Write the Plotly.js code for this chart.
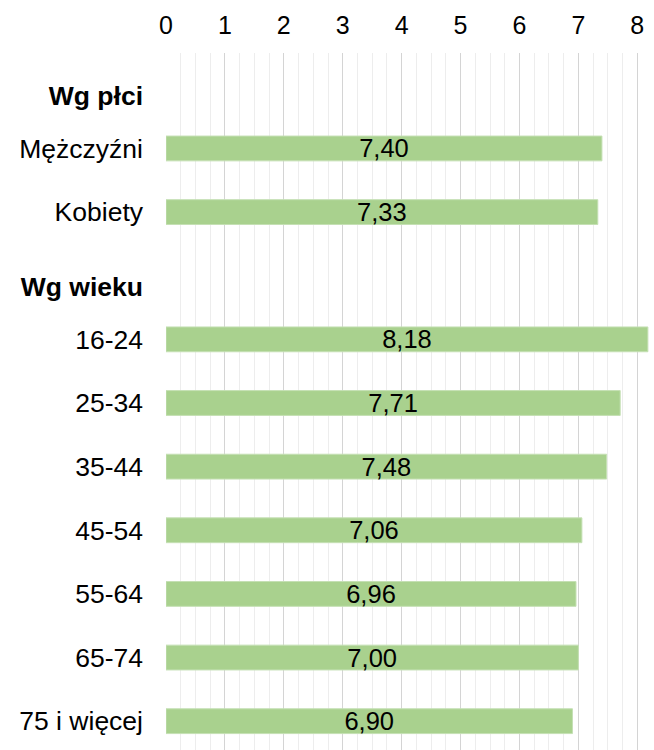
<!DOCTYPE html>
<html>
<head>
<meta charset="utf-8">
<script src="https://cdn.plot.ly/plotly-3.0.1.min.js"></script>
<style>
html,body{margin:0;padding:0;overflow:hidden;background:#fff;}
#chart{width:654px;height:753px;}
</style>
</head>
<body>
<div id="chart"></div>
<script>
// Data
const headers = ["Wg płci", "Wg wieku"];
const genderCategories = ["Mężczyźni", "Kobiety"];
const genderValues = [7.40, 7.33];
const ageCategories = ["16-24", "25-34", "35-44", "45-54", "55-64", "65-74", "75 i więcej"];
const ageValues = [8.18, 7.71, 7.48, 7.06, 6.96, 7.00, 6.90];
const xTickValues = [0, 1, 2, 3, 4, 5, 6, 7, 8];

// Build slot list: header, its rows, header, its rows
const slots = [];
slots.push({label: headers[0], header: true});
genderCategories.forEach((c, i) => slots.push({label: c, value: genderValues[i]}));
slots.push({label: headers[1], header: true});
ageCategories.forEach((c, i) => slots.push({label: c, value: ageValues[i]}));

const barY = [], barX = [];
const tickvals = [], ticktext = [];
const headerOffset = 0.17;
slots.forEach((s, i) => {
  if (s.header) {
    tickvals.push(i + headerOffset);
    ticktext.push('<b>' + s.label + '</b>');
  } else {
    barY.push(i);
    barX.push(s.value);
    tickvals.push(i);
    ticktext.push(s.label);
  }
});

const trace = {
  type: 'bar',
  orientation: 'h',
  x: barX,
  y: barY,
  width: 0.39,
  marker: {color: '#A9D18E', line: {color: '#C5E0B4', width: 1}},
  texttemplate: '%{x:.2f}',
  textposition: 'inside',
  insidetextanchor: 'middle',
  textangle: 0,
  textfont: {family: 'Liberation Sans, Arial, sans-serif', size: 25.5, color: '#000'},
  constraintext: 'none',
  hoverinfo: 'none'
};

const layout = {
  width: 654,
  height: 753,
  margin: {l: 166, r: 2, t: 53, b: 0},
  paper_bgcolor: '#fff',
  plot_bgcolor: '#fff',
  separators: ',.',
  showlegend: false,
  font: {family: 'Liberation Sans, Arial, sans-serif', color: '#000'},
  xaxis: {
    side: 'top',
    range: [0, 8.25],
    tickvals: xTickValues,
    tickfont: {size: 25, color: '#000'},
    showgrid: true,
    gridcolor: '#D4D4D4',
    gridwidth: 1,
    zeroline: false,
    showline: false,
    ticks: '',
    ticklabelstandoff: 13,
    minor: {dtick: 0.25, showgrid: true, gridcolor: '#EDEDED', gridwidth: 1, ticks: ''},
    fixedrange: true
  },
  yaxis: {
    range: [slots.length - 0.5, -0.5],
    tickvals: tickvals,
    ticktext: ticktext,
    tickfont: {size: 26.5, color: '#000'},
    showgrid: false,
    zeroline: false,
    showline: false,
    ticks: '',
    ticklabelstandoff: 22,
    fixedrange: true
  },
  bargap: 0
};

Plotly.newPlot('chart', [trace], layout, {displayModeBar: false, staticPlot: true});
</script>
</body>
</html>
